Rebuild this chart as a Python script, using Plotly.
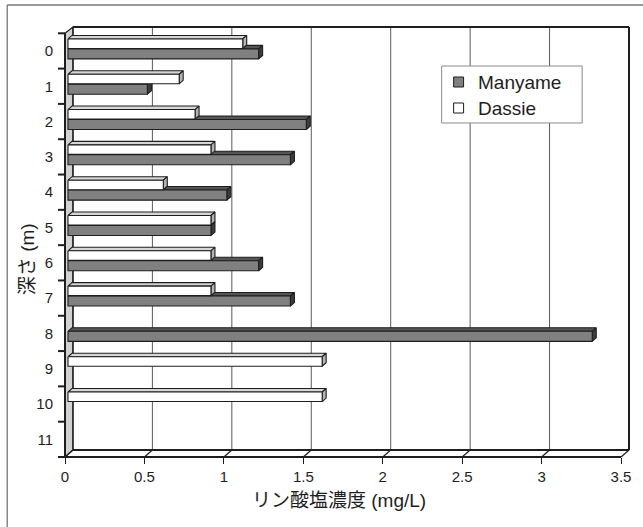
import plotly.graph_objects as go

# ---- data -------------------------------------------------------------
depths = ["0", "1", "2", "3", "4", "5", "6", "7", "8", "9", "10", "11"]
manyame = [1.2, 0.5, 1.5, 1.4, 1.0, 0.9, 1.2, 1.4, 3.3, None, None, None]
dassie = [1.1, 0.7, 0.8, 0.9, 0.6, 0.9, 0.9, 0.9, None, 1.6, 1.6, None]
x_ticks = [0, 0.5, 1, 1.5, 2, 2.5, 3, 3.5]
x_tick_text = ["0", "0.5", "1", "1.5", "2", "2.5", "3", "3.5"]
series_names = ["Manyame", "Dassie"]

# ---- geometry of the pseudo-3D frame (pixels) --------------------------
FIG_W, FIG_H = 643, 527
L, R, T, B = 65, 631, 27, 457          # plot area
W, H = R - L, B - T
DX, DY = 8, 7                           # wall depth
XMAX = 3.5
K = (R - DX - L) / XMAX                 # pixels per mg/L on the front axis
BAR_X0 = 3                              # bars start slightly behind the front plane
BDX, BDY = 4, 3.5                       # bar depth
N = len(depths)
PITCH = (B - 33.3) / N                  # pixels per category
Y_TOP = 11.5 - H / PITCH                # data value at the top of the plot area

FONT = "Liberation Sans, Arial, Noto Sans CJK JP, sans-serif"
INK = "#1e1e1e"


def X(p):
    return (p - L) / W


def Y(p):
    return (B - p) / H


fig = go.Figure()

# ---- bars: top face, side face and front face as filled polygons -------
ddx = BDX / K
ddy = BDY / PITCH
bands = {"Manyame": (-0.06, 0.225), "Dassie": (-0.34, -0.07)}
colors = {
    "Manyame": {"front": "#808080", "top": "#555555", "side": "#3c3c3c"},
    "Dassie": {"front": "#ffffff", "top": "#d6d6d6", "side": "#b4b4b4"},
}


def faces(values, band):
    lo, hi = band
    top_x, top_y, side_x, side_y, front_x, front_y = [], [], [], [], [], []
    for i, v in enumerate(values):
        if not v:
            continue
        y0, y1 = i + lo, i + hi
        top_x += [0, v, v + ddx, ddx, 0, None]
        top_y += [y0, y0, y0 - ddy, y0 - ddy, y0, None]
        side_x += [v, v + ddx, v + ddx, v, v, None]
        side_y += [y0, y0 - ddy, y1 - ddy, y1, y0, None]
        front_x += [0, v, v, 0, 0, None]
        front_y += [y0, y0, y1, y1, y0, None]
    return (top_x, top_y), (side_x, side_y), (front_x, front_y)


for name, values in zip(series_names, [manyame, dassie]):
    top, side, front = faces(values, bands[name])
    for (fx, fy), part in zip([top, side, front], ["top", "side", "front"]):
        fig.add_trace(go.Scatter(
            x=fx, y=fy, mode="lines", fill="toself",
            fillcolor=colors[name][part],
            line=dict(color=INK, width=1.1),
            name=name, showlegend=False, hoverinfo="skip",
        ))

# invisible trace carrying the front-plane value axis
fig.add_trace(go.Scatter(x=[0, XMAX], y=[0, 0], xaxis="x2", mode="markers",
                         marker=dict(opacity=0), showlegend=False,
                         hoverinfo="skip"))

shapes = []


def seg(x0, y0, x1, y1, color=INK, width=1.0, layer="below"):
    shapes.append(dict(type="line", xref="paper", yref="paper",
                       x0=X(x0), y0=Y(y0), x1=X(x1), y1=Y(y1),
                       line=dict(color=color, width=width), layer=layer))


front_top = B - N * PITCH

# left side wall
shapes.append(dict(
    type="path", xref="paper", yref="paper", layer="below",
    path=f"M {X(L)},{Y(front_top)} L {X(L + DX)},{Y(T)} L {X(L + DX)},{Y(B - DY)} "
         f"L {X(L)},{Y(B)} Z",
    fillcolor="#d2d2d2", line=dict(color=INK, width=1.2)))

# back wall gridlines
for v in x_ticks[1:-1]:
    seg(L + DX + v * K, T, L + DX + v * K, B - DY, color="#5a5a5a", width=1)
# back wall outline
seg(L + DX, T, R, T, width=2)
seg(R, T, R, B - DY, width=2)
seg(L + DX, T, L + DX, B - DY, width=1.2)

# floor
seg(L + DX, B - DY, R, B - DY, width=2)
seg(L, B, L + XMAX * K, B, width=2.2)
for v in x_ticks:
    seg(L + v * K, B, L + DX + v * K, B - DY, width=1.2)

# front left axis line and category boundary ticks
seg(L, front_top, L, B, width=2)
for j in range(N + 1):
    yb = B - (N - j) * PITCH
    seg(L - 7, yb, L, yb, width=2)

# outer chart border
seg(7, 5, FIG_W + 5, 5, color="#9a9a9a", width=2)
seg(7, 5, 7, FIG_H + 5, color="#6a6a6a", width=1.2)

# legend
shapes.append(dict(type="rect", xref="paper", yref="paper", layer="above",
                   x0=X(443), y0=Y(66), x1=X(584), y1=Y(123),
                   fillcolor="white", line=dict(color="#8a8a8a", width=1)))
legend_rows = [82, 108]
annotations = []
for name, yc in zip(series_names, legend_rows):
    shapes.append(dict(type="rect", xref="paper", yref="paper", layer="above",
                       x0=X(455), y0=Y(yc - 5), x1=X(465), y1=Y(yc + 5),
                       fillcolor=colors[name]["front"],
                       line=dict(color=INK, width=1)))
    annotations.append(dict(text=name, xref="paper", yref="paper",
                            x=X(477), y=Y(yc), xanchor="left", yanchor="middle",
                            showarrow=False,
                            font=dict(family=FONT, size=19, color=INK)))

# axis titles
annotations.append(dict(text="リン酸塩濃度 (mg/L)", xref="paper", yref="paper",
                        x=X(340), y=Y(501), xanchor="center", yanchor="middle",
                        showarrow=False,
                        font=dict(family=FONT, size=19, color=INK)))
annotations.append(dict(text="深さ (m)", xref="paper", yref="paper",
                        x=X(27), y=Y(259), xanchor="center", yanchor="middle",
                        textangle=-90, showarrow=False,
                        font=dict(family=FONT, size=19, color=INK)))

fig.update_layout(
    width=FIG_W, height=FIG_H,
    margin=dict(l=L, r=FIG_W - R, t=T, b=FIG_H - B, pad=0),
    paper_bgcolor="white", plot_bgcolor="rgba(0,0,0,0)",
    showlegend=False,
    xaxis=dict(range=[-BAR_X0 / K, (W - BAR_X0) / K], domain=[0, 1],
               showgrid=False, zeroline=False, showline=False,
               showticklabels=False, ticks="", fixedrange=True),
    xaxis2=dict(range=[0, W / K], overlaying="x", anchor="y", side="bottom",
                tickvals=x_ticks, ticktext=x_tick_text,
                ticks="outside", ticklen=6, tickwidth=1.2, tickcolor=INK,
                showgrid=False, zeroline=False, showline=False,
                tickfont=dict(family=FONT, size=15, color=INK),
                fixedrange=True),
    yaxis=dict(range=[11.5, Y_TOP], domain=[0, 1],
               tickvals=list(range(N)), ticktext=depths,
               ticks="", ticklabelstandoff=11,
               showgrid=False, zeroline=False, showline=False,
               tickfont=dict(family=FONT, size=15, color=INK),
               fixedrange=True),
    shapes=shapes,
    annotations=annotations,
)

fig.write_html("out.html")
